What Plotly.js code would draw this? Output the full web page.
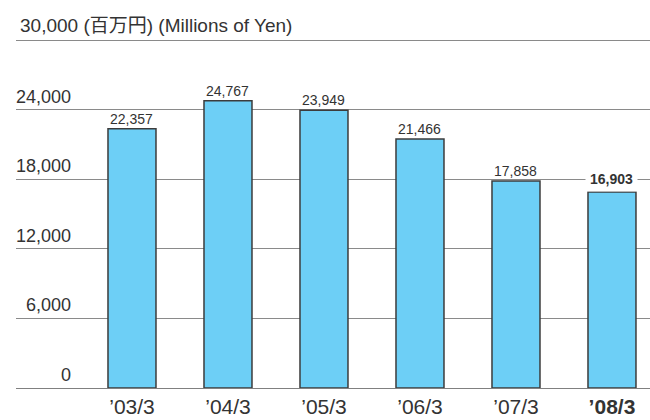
<!DOCTYPE html>
<html>
<head>
<meta charset="utf-8">
<script src="https://cdn.plot.ly/plotly-3.0.1.min.js"></script>
<style>html,body{margin:0;padding:0;background:#fff;}#chart{width:650px;height:420px;}</style>
</head>
<body>
<div id="chart"></div>
<script>
const categories = ["’03/3", "’04/3", "’05/3", "’06/3", "’07/3", "’08/3"];
const values = [22357, 24767, 23949, 21466, 17858, 16903];
const valueLabels = ["22,357", "24,767", "23,949", "21,466", "17,858", "16,903"];
const yTickVals = [0, 6000, 12000, 18000, 24000];
const yTickText = ["0", "6,000", "12,000", "18,000", "24,000"];
const gridVals = [0, 6000, 12000, 18000, 24000, 30000];
const unitLabel = "30,000 (百万円) (Millions of Yen)";
const highlightIndex = 5;

const FONT = "Liberation Sans, Arial, Noto Sans CJK JP, sans-serif";
const TXT = "#333333";

const annotations = [];
yTickVals.forEach((v, i) => {
  annotations.push({
    xref: "paper", yref: "y", x: (73 - 16) / 634, y: v,
    xanchor: "right", yanchor: "bottom", yshift: 1,
    text: yTickText[i], showarrow: false,
    font: {family: FONT, size: 18, color: TXT}
  });
});
values.forEach((v, i) => {
  const hl = i === highlightIndex;
  annotations.push({
    xref: "x", yref: "y", x: categories[i], y: v,
    xanchor: "center", yanchor: "bottom", yshift: 0,
    text: hl ? "<b>" + valueLabels[i] + "</b>" : valueLabels[i],
    showarrow: false,
    bgcolor: hl ? "#ffffff" : "rgba(0,0,0,0)",
    borderpad: hl ? 4 : 1,
    font: {family: FONT, size: 14, color: TXT}
  });
});
annotations.push({
  xref: "paper", yref: "y", x: (18 - 16) / 634, y: 30000,
  xanchor: "left", yanchor: "bottom", yshift: 2,
  text: unitLabel, showarrow: false,
  font: {family: FONT, size: 19, color: TXT}
});

const trace = {
  type: "bar",
  x: categories,
  y: values,
  width: 0.5,
  marker: {color: "#6dcff6", line: {color: "#3c3c3c", width: 1.5}},
  hoverinfo: "none"
};

const layout = {
  width: 650, height: 420,
  margin: {l: 16, r: 0, t: 39, b: 32, pad: 0},
  paper_bgcolor: "#ffffff", plot_bgcolor: "#ffffff",
  showlegend: false,
  font: {family: FONT, color: TXT},
  xaxis: {
    type: "category",
    range: [-1.2083, 5.396],
    tickvals: categories,
    ticktext: categories.map((c, i) => i === highlightIndex ? "<b>" + c + "</b>" : c),
    tickfont: {family: FONT, size: 21, color: TXT},
    ticklabelstandoff: 4,
    showgrid: false, zeroline: false, showline: false, ticks: "",
    fixedrange: true
  },
  yaxis: {
    range: [0, 30100],
    tickvals: gridVals,
    showticklabels: false,
    showgrid: true, gridcolor: "#8a8a8a", gridwidth: 1,
    zeroline: true, zerolinecolor: "#808080", zerolinewidth: 1,
    showline: false, ticks: "", fixedrange: true
  },
  annotations: annotations
};

Plotly.newPlot("chart", [trace], layout, {staticPlot: true, displayModeBar: false});
</script>
</body>
</html>
